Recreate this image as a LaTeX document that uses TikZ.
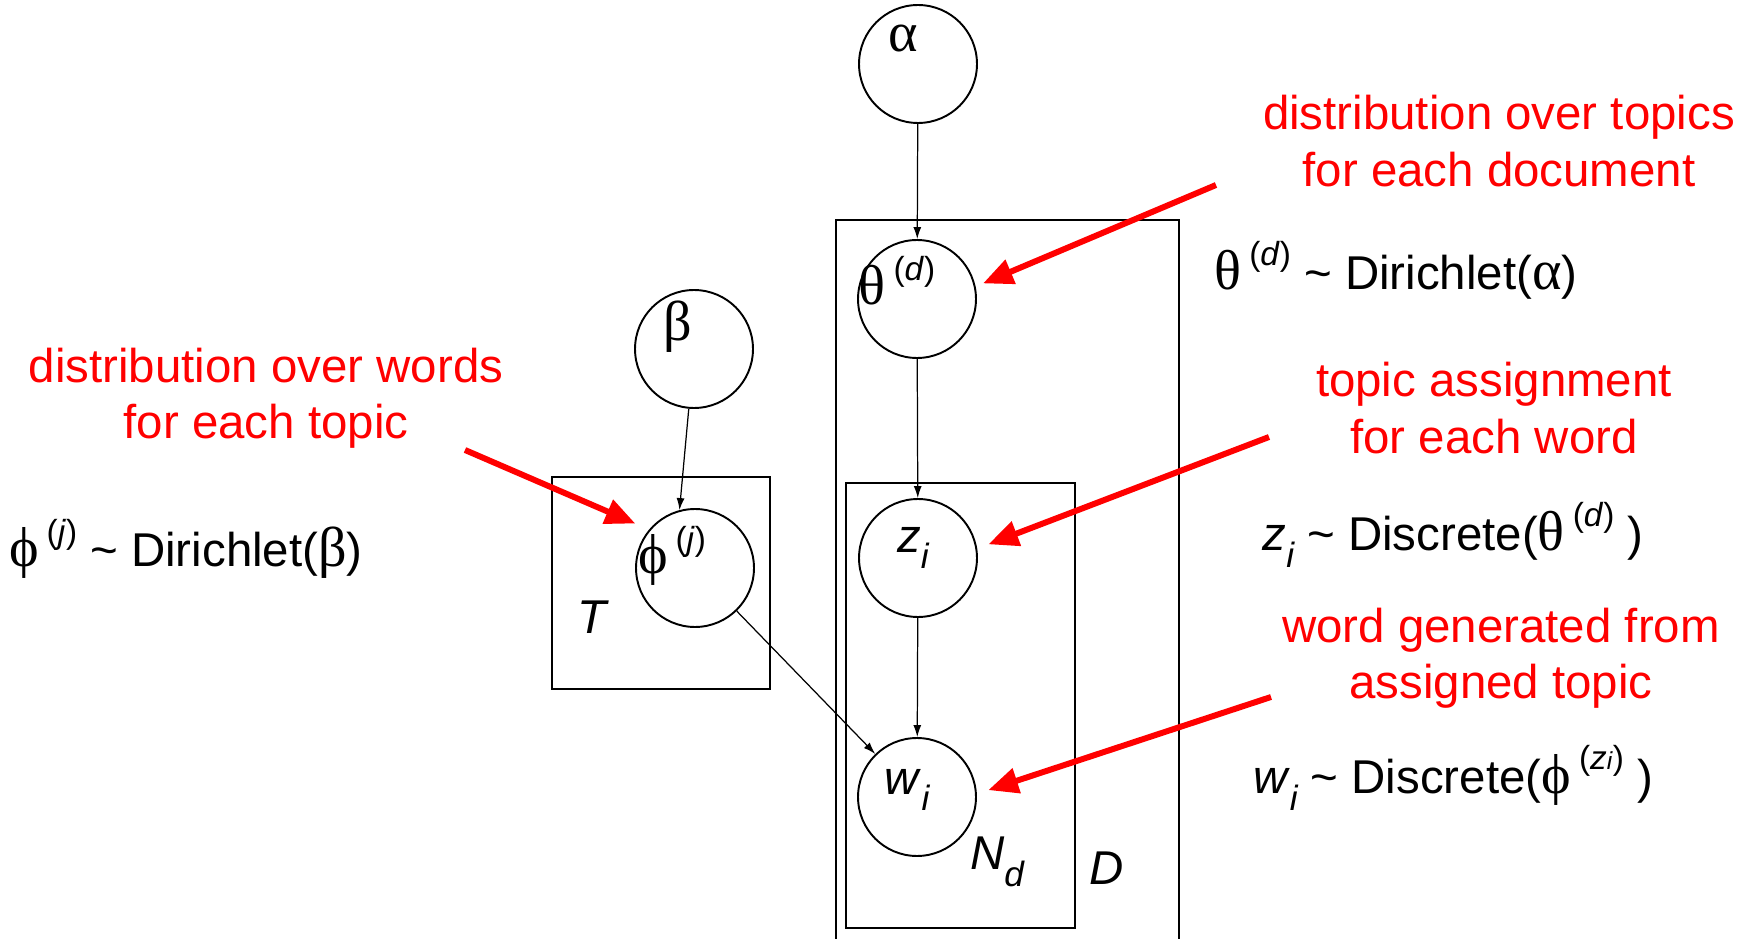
\documentclass[tikz,border=0pt]{standalone}
\usepackage{xcolor}
\usepackage{fontspec}
\usepackage{tikz}
\usetikzlibrary{arrows.meta,calc}
\setmainfont{Liberation Sans}
\newfontfamily\grk{Liberation Serif}
\newcommand{\gk}[1]{{\grk\fontsize{32}{32}\selectfont #1}}
\newcommand{\supx}[1]{\raisebox{0.5em}{\fontsize{19}{19}\selectfont #1}}
\newcommand{\subx}[1]{\raisebox{-0.35em}{\fontsize{20}{20}\selectfont\itshape #1}}

\begin{document}
\begin{tikzpicture}[x=0.02cm, y=-0.02cm,
    every node/.style={font=\fontsize{27}{32}\selectfont},
    var/.style={draw, circle, line width=1.1pt, minimum size=2.36cm, inner sep=0pt},
    plate/.style={draw, line width=1.1pt},
    edge/.style={-{Latex[length=0.24cm,width=0.16cm]}, line width=0.7pt},
    note/.style={red, align=center},
    pointer/.style={red, line width=3.4pt, -{Triangle[length=0.6cm,width=0.5cm]}}]
    \useasboundingbox (0,0) rectangle (1756,939);

    % Variables
    \node[var] (alpha) at (918,64) {};
    \node[var] (theta) at (917,299) {};
    \node[var] (beta) at (694,349) {};
    \node[var] (phi) at (695,568) {};
    \node[var] (z) at (918,558) {};
    \node[var] (w) at (917,797) {};

    \node (alphatxt) at ($(alpha)+(-15,-25)$) {\gk{α}};
    \node (thetatxt) at ($(theta)+(-20,-18)$) {\gk{θ}\,\supx{(\textit{d})}};
    \node (betatxt) at ($(beta)+(-16,-22)$) {\gk{β}};
    \node (phitxt) at ($(phi)+(-23,-12)$) {\gk{ϕ}\,\supx{(\textit{j})}};
    \node (ztxt) at ($(z)+(-5,-10)$) {\textit{z}\subx{i}};
    \node (wtxt) at ($(w)+(-10,-7)$) {\textit{w}\subx{i}};

    % Plates
    \draw[plate] (552,477) rectangle (770,689);
    \draw[plate] (836,945) -- (836,220) -- (1179,220) -- (1179,945);
    \draw[plate] (846,483) rectangle (1075,928);
    \node (tlab) at (593,617) {\textit{T}};
    \node (ndlab) at (997,862) {\textit{N}\subx{d}};
    \node (dlab) at (1107,868) {\textit{D}};

    % Edges
    \draw[edge] (alpha) -- (theta);
    \draw[edge] (theta) -- (z);
    \draw[edge] (z) -- (w);
    \draw[edge] (beta.-95) -- (phi.105);
    \draw[edge] (phi) -- (w);

    % Distributions
    \node (thetadist) at (1396,270) {\gk{θ}\,\supx{(\textit{d})} \textasciitilde{} Dirichlet(\gk{α})};
    \node (phidist) at (186,549) {\gk{ϕ}\,\supx{(\textit{j})} \textasciitilde{} Dirichlet(\gk{β})};
    \node (zdist) at (1453,535) {\textit{z}\subx{i} \textasciitilde{} Discrete(\gk{θ}\,\supx{(\textit{d})} )};
    \node (wdist) at (1453,778) {\textit{w}\subx{i} \textasciitilde{} Discrete(\gk{ϕ}\,\supx{(\textit{z}{\fontsize{14}{14}\selectfont\textit{i}})} )};

    % Notes
    \node[note] (n1) at (1499,141) {distribution over topics\\for each document};
    \node[note] (n2) at (266,398) {distribution over words\\for each topic};
    \node[note] (n3) at (1494,408) {topic assignment\\for each word};
    \node[note] (n4) at (1501,658) {word generated from\\assigned topic};

    \coordinate (p1) at (1216,185);
    \coordinate (p2) at (465,450);
    \coordinate (p3) at (1269,437);
    \coordinate (p4) at (1271,697);
    \foreach \src/\dst/\gap in {p1/theta.12/0.16cm, p2/phi.140/0.3cm, p3/z.9/0.24cm, p4/w.3/0.24cm}
        \draw[pointer, shorten >=\gap] (\src) -- (\dst);
\end{tikzpicture}
\end{document}
